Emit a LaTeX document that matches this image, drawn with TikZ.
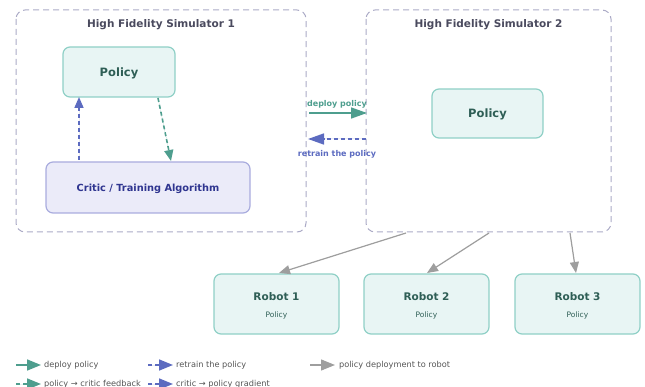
\documentclass[tikz,border=0pt]{standalone}
\usepackage{fontspec}
\setmainfont{DejaVu Sans}
\usetikzlibrary{arrows.meta}
\definecolor{simframe}{HTML}{ABAAC6}
\definecolor{simtitle}{HTML}{4A4A5E}
\definecolor{polfill}{HTML}{E8F5F4}
\definecolor{poldraw}{HTML}{8FD0C6}
\definecolor{poltext}{HTML}{2E5E55}
\definecolor{critfill}{HTML}{EBEBF9}
\definecolor{critdraw}{HTML}{A9ACDE}
\definecolor{crittext}{HTML}{2F3590}
\definecolor{deploygreen}{HTML}{4E9E8E}
\definecolor{retrainblue}{HTML}{5C6BC0}
\definecolor{robotgray}{HTML}{9E9E9E}
\definecolor{legendtext}{HTML}{555555}
\tikzset{
  simbox/.style={draw=simframe, line width=1pt, dash pattern=on 6pt off 4pt, rounded corners=9pt},
  simlabel/.style={text=simtitle, font=\bfseries\fontsize{10.5}{13}\selectfont},
  polbox/.style={draw=poldraw, fill=polfill, line width=1.2pt, rounded corners=7pt},
  critbox/.style={draw=critdraw, fill=critfill, line width=1.2pt, rounded corners=7pt},
  tip/.style={-{Triangle[length=11pt,width=9pt]}},
  bigtip/.style={-{Triangle[length=16pt,width=11pt]}},
  legtip/.style={-{Triangle[length=14pt,width=11pt]}},
  greenarrow/.style={draw=deploygreen, fill=deploygreen, line width=1.6pt},
  bluearrow/.style={draw=retrainblue, fill=retrainblue, line width=1.6pt},
  grayarrow/.style={draw=robotgray, fill=robotgray, line width=1.2pt},
  dashline/.style={dash pattern=on 4pt off 3pt},
  legtext/.style={anchor=west, text=legendtext, font=\fontsize{8.2}{10}\selectfont, inner sep=0pt},
}
\begin{document}
\begin{tikzpicture}[x=1pt,y=-1pt]
\useasboundingbox (0,0) rectangle (645,387);

% simulator frames
\draw[simbox] (16,10) rectangle (306,232);
\node[simlabel] (t1) at (161,25) {High Fidelity Simulator 1};
\draw[simbox] (366,10) rectangle (611,232);
\node[simlabel] (t2) at (488.5,25) {High Fidelity Simulator 2};
\coordinate (s2a) at (406,233);
\coordinate (s2b) at (489,233);
\coordinate (s2c) at (570,233);

% simulator 1 contents
\draw[polbox] (63,47) rectangle (175,97);
\node[text=poltext, font=\bfseries\fontsize{11.5}{14}\selectfont] (p1) at (119,73) {Policy};
\draw[critbox] (46,162) rectangle (250,213);
\node[text=crittext, font=\bfseries\fontsize{9.8}{12}\selectfont] (crit) at (148,189) {Critic / Training Algorithm};
\coordinate (c1a) at (79,160);
\coordinate (p1a) at (79,97);
\coordinate (p1b) at (158,98);
\coordinate (c1b) at (171,161);
\draw[bluearrow, tip, dashline] (c1a) -- (p1a);
\draw[greenarrow, tip, dashline] (p1b) -- (c1b);

% simulator 2 contents
\draw[polbox] (432,89) rectangle (543,138);
\node[text=poltext, font=\bfseries\fontsize{11.5}{14}\selectfont] (p2) at (487.5,114.5) {Policy};

% transfer between simulators
\coordinate (d1) at (309,113);
\coordinate (d2) at (367,113);
\coordinate (r1) at (366,139);
\coordinate (r2) at (308,139);
\draw[greenarrow, bigtip] (d1) -- (d2);
\draw[bluearrow, bigtip, dashline] (r1) -- (r2);
\node[text=deploygreen, font=\bfseries\fontsize{8}{10}\selectfont] (dl) at (337,104) {deploy policy};
\node[text=retrainblue, font=\bfseries\fontsize{8}{10}\selectfont] (rl) at (337,154.5) {retrain the policy};

% robots
\foreach \x/\n in {214/1, 364/2, 515/3} {
  \draw[polbox] (\x,274) rectangle ++(125,60);
  \node[text=poltext, font=\bfseries\fontsize{10.5}{12}\selectfont] (rob\n) at (\x+62.5,296.5) {Robot \n};
  \node[text=poltext, font=\fontsize{7.5}{9}\selectfont] (rp\n) at (\x+62.5,315.5) {Policy};
}
\coordinate (r1t) at (279,273);
\coordinate (r2t) at (427,273);
\coordinate (r3t) at (576,273);
\draw[grayarrow, tip] (s2a) -- (r1t);
\draw[grayarrow, tip] (s2b) -- (r2t);
\draw[grayarrow, tip] (s2c) -- (r3t);

% legend
\coordinate (l1a) at (16,365); \coordinate (l1b) at (41,365);
\coordinate (l2a) at (148,365); \coordinate (l2b) at (173,365);
\coordinate (l3a) at (310,365); \coordinate (l3b) at (335,365);
\coordinate (l4a) at (16,384); \coordinate (l4b) at (41,384);
\coordinate (l5a) at (148,384); \coordinate (l5b) at (173,384);
\draw[greenarrow, legtip] (l1a) -- (l1b);
\draw[bluearrow, legtip, dashline] (l2a) -- (l2b);
\draw[grayarrow, legtip] (l3a) -- (l3b);
\draw[greenarrow, legtip, dashline] (l4a) -- (l4b);
\draw[bluearrow, legtip, dashline] (l5a) -- (l5b);
\node[legtext] (lt1) at (44,365) {deploy policy};
\node[legtext] (lt2) at (176,365) {retrain the policy};
\node[legtext] (lt3) at (339,365) {policy deployment to robot};
\node[legtext] (lt4) at (44,384.5) {policy → critic feedback};
\node[legtext] (lt5) at (176,384.5) {critic → policy gradient};
\end{tikzpicture}
\end{document}
